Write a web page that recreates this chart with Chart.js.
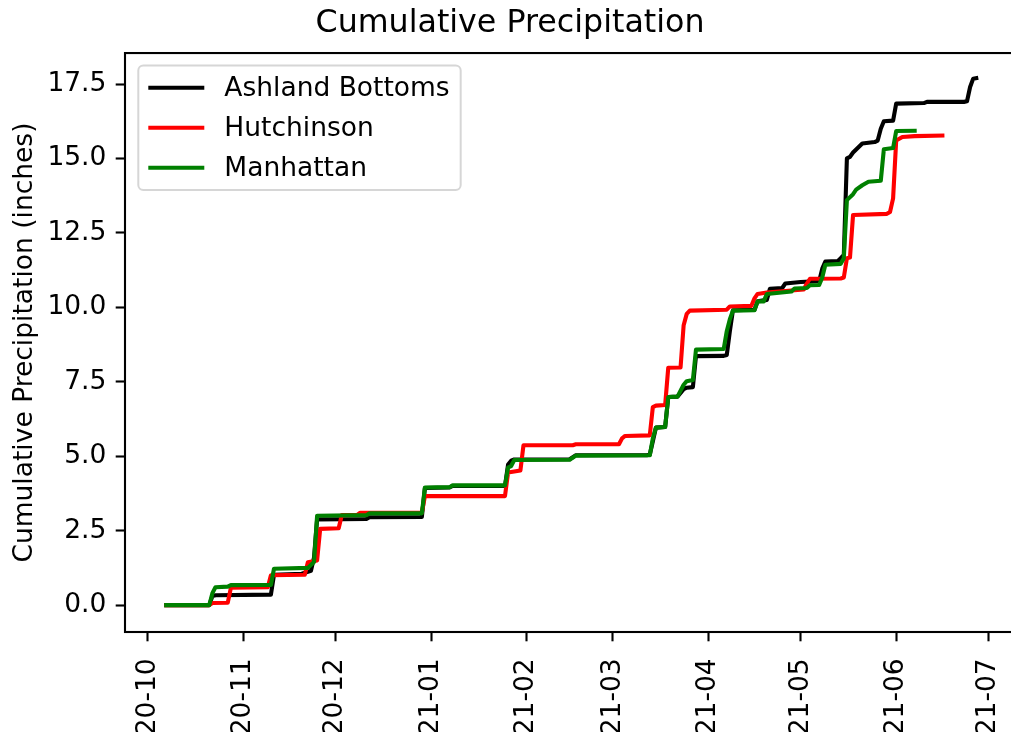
<!DOCTYPE html>
<html>
<head>
<meta charset="utf-8">
<script src="https://cdn.jsdelivr.net/npm/chart.js@4.4.1/dist/chart.umd.min.js"></script>
<style>
  html, body { margin: 0; padding: 0; background: #fff; overflow: hidden; }
  #wrap { width: 1040px; height: 732px; }
</style>
</head>
<body>
<div id="wrap"><canvas id="precipCanvas" width="1040" height="732"></canvas></div>
<script>
// day 0 = 2020-10-01
const startDate = "2020-10-01";

const monthStarts = ["2020-10-01", "2020-11-01", "2020-12-01", "2021-01-01", "2021-02-01",
  "2021-03-01", "2021-04-01", "2021-05-01", "2021-06-01", "2021-07-01"];
const monthLabels = ["20-10", "20-11", "20-12", "21-01", "21-02", "21-03", "21-04", "21-05", "21-06", "21-07"];
const yTicks = [0, 2.5, 5, 7.5, 10, 12.5, 15, 17.5];

const ashlandDates = ["2020-10-07", "2020-10-21", "2020-10-22", "2020-10-23", "2020-11-10", "2020-11-11",
  "2020-11-20", "2020-11-23", "2020-11-24", "2020-11-25", "2020-12-11", "2020-12-12", "2020-12-29",
  "2020-12-30", "2021-01-07", "2021-01-08", "2021-01-25", "2021-01-26", "2021-01-27", "2021-01-28",
  "2021-02-15", "2021-02-17", "2021-03-12", "2021-03-13", "2021-03-14", "2021-03-15", "2021-03-18",
  "2021-03-19", "2021-03-22", "2021-03-24", "2021-03-25", "2021-03-27", "2021-03-28", "2021-04-06",
  "2021-04-07", "2021-04-08", "2021-04-09", "2021-04-16", "2021-04-17", "2021-04-20", "2021-04-21",
  "2021-04-25", "2021-04-26", "2021-05-01", "2021-05-07", "2021-05-08", "2021-05-09", "2021-05-13",
  "2021-05-14", "2021-05-15", "2021-05-16", "2021-05-17", "2021-05-18", "2021-05-19", "2021-05-21",
  "2021-05-25", "2021-05-26", "2021-05-27", "2021-05-28", "2021-05-31", "2021-06-01", "2021-06-10",
  "2021-06-11", "2021-06-23", "2021-06-24", "2021-06-25", "2021-06-26", "2021-06-27"];
const ashlandValues = [0, 0, 0.3, 0.33, 0.35, 1.02,
  1.05, 1.15, 1.6, 2.88, 2.89, 2.95, 2.96,
  3.93, 3.95, 4.0, 4.0, 4.72, 4.85, 4.89,
  4.9, 5.03, 5.03, 5.05, 5.5, 5.96, 5.98,
  6.99, 7.0, 7.25, 7.3, 7.32, 8.36, 8.37,
  8.4, 9.2, 9.9, 9.92, 10.2, 10.25, 10.62,
  10.65, 10.8, 10.85, 10.88, 11.3, 11.54, 11.55,
  11.65, 11.76, 15.0, 15.05, 15.2, 15.3, 15.5,
  15.55, 15.6, 16.0, 16.25, 16.27, 16.84, 16.86,
  16.9, 16.9, 16.92, 17.4, 17.68, 17.7];

const hutchDates = ["2020-10-07", "2020-10-21", "2020-10-22", "2020-10-27", "2020-10-28", "2020-11-09",
  "2020-11-10", "2020-11-21", "2020-11-22", "2020-11-25", "2020-11-26", "2020-12-02", "2020-12-03",
  "2020-12-08", "2020-12-09", "2020-12-29", "2020-12-30", "2021-01-25", "2021-01-26", "2021-01-30",
  "2021-01-31", "2021-02-16", "2021-02-17", "2021-03-03", "2021-03-04", "2021-03-05", "2021-03-13",
  "2021-03-14", "2021-03-15", "2021-03-18", "2021-03-19", "2021-03-23", "2021-03-24", "2021-03-25",
  "2021-03-26", "2021-04-07", "2021-04-08", "2021-04-15", "2021-04-16", "2021-04-17", "2021-04-20",
  "2021-05-02", "2021-05-03", "2021-05-04", "2021-05-14", "2021-05-15", "2021-05-16", "2021-05-17",
  "2021-05-18", "2021-05-29", "2021-05-30", "2021-05-31", "2021-06-01", "2021-06-03", "2021-06-07",
  "2021-06-16"];
const hutchValues = [0, 0, 0.07, 0.08, 0.58, 0.6,
  1.0, 1.02, 1.44, 1.5, 2.56, 2.58, 3.02,
  3.03, 3.1, 3.1, 3.66, 3.66, 4.45, 4.52,
  5.37, 5.37, 5.4, 5.4, 5.6, 5.68, 5.7,
  6.65, 6.7, 6.72, 7.97, 7.98, 9.4, 9.78,
  9.89, 9.92, 10.03, 10.05, 10.3, 10.45, 10.5,
  10.6, 10.8, 10.96, 10.97, 11.0, 11.65, 11.67,
  13.1, 13.14, 13.2, 13.66, 15.6, 15.72, 15.75,
  15.77];

const manhattanDates = ["2020-10-07", "2020-10-21", "2020-10-22", "2020-10-23", "2020-10-27", "2020-10-28",
  "2020-11-10", "2020-11-11", "2020-11-22", "2020-11-24", "2020-11-25", "2020-12-11", "2020-12-12",
  "2020-12-29", "2020-12-30", "2021-01-07", "2021-01-08", "2021-01-25", "2021-01-26", "2021-01-27",
  "2021-01-28", "2021-02-15", "2021-02-17", "2021-03-13", "2021-03-14", "2021-03-15", "2021-03-18",
  "2021-03-19", "2021-03-22", "2021-03-24", "2021-03-25", "2021-03-27", "2021-03-28", "2021-04-06",
  "2021-04-07", "2021-04-08", "2021-04-09", "2021-04-16", "2021-04-17", "2021-04-19", "2021-04-20",
  "2021-04-28", "2021-04-29", "2021-05-03", "2021-05-04", "2021-05-07", "2021-05-08", "2021-05-09",
  "2021-05-14", "2021-05-15", "2021-05-16", "2021-05-18", "2021-05-19", "2021-05-21", "2021-05-23",
  "2021-05-27", "2021-05-28", "2021-05-31", "2021-06-01", "2021-06-07"];
const manhattanValues = [0, 0, 0.4, 0.6, 0.62, 0.67,
  0.68, 1.22, 1.25, 1.45, 3.0, 3.02, 3.08,
  3.08, 3.95, 3.96, 4.02, 4.02, 4.62, 4.67,
  4.87, 4.88, 5.02, 5.03, 5.6, 5.96, 5.98,
  6.99, 7.0, 7.4, 7.52, 7.56, 8.58, 8.6,
  9.2, 9.6, 9.89, 9.9, 10.2, 10.2, 10.45,
  10.53, 10.63, 10.65, 10.74, 10.75, 11.0, 11.43,
  11.46, 11.65, 13.6, 13.8, 13.95, 14.1, 14.22,
  14.25, 15.31, 15.35, 15.92, 15.93];

function dayOf(s) {
  const [y, m, d] = s.split("-").map(Number);
  const [y0, m0, d0] = startDate.split("-").map(Number);
  return (Date.UTC(y, m - 1, d) - Date.UTC(y0, m0 - 1, d0)) / 86400000;
}

function toPoints(dates, values) {
  return dates.map((d, i) => ({ x: dayOf(d), y: values[i] }));
}

const FONT = "'DejaVu Sans', sans-serif";
Chart.defaults.font.family = FONT;
Chart.defaults.font.size = 26.5;
Chart.defaults.color = "#000";

const lineStyle = {
  borderWidth: 4.1,
  pointRadius: 0,
  tension: 0,
  fill: false,
  borderCapStyle: "square",
  borderJoinStyle: "round"
};

// axes frame like matplotlib spines
const frame = {
  id: "frame",
  afterDatasetsDraw(chart) {
    const { ctx, chartArea: a } = chart;
    ctx.save();
    ctx.strokeStyle = "#000";
    ctx.lineWidth = 2.1;
    ctx.strokeRect(a.left, a.top, a.right - a.left, a.bottom - a.top);
    ctx.restore();
  }
};

const legendBox = {
  id: "legendBox",
  afterDraw(chart) {
    const { ctx, chartArea: a } = chart;
    const sets = chart.data.datasets;
    ctx.save();
    ctx.font = "26.5px " + FONT;
    const textW = Math.max(...sets.map(s => ctx.measureText(s.label).width));
    const x0 = a.left + 13.3, y0 = a.top + 12.5;
    const pad = 10, handle = 56, gap = 20, pitch = 40, first = 22.2;
    const w = pad + handle + gap + textW + 11;
    const h = first * 2 + pitch * (sets.length - 1);
    ctx.beginPath();
    ctx.roundRect(x0, y0, w, h, 5);
    ctx.fillStyle = "rgba(255,255,255,0.8)";
    ctx.fill();
    ctx.strokeStyle = "#d6d6d6";
    ctx.lineWidth = 2;
    ctx.stroke();
    sets.forEach((s, i) => {
      const cy = y0 + first + i * pitch;
      ctx.beginPath();
      ctx.moveTo(x0 + pad, cy);
      ctx.lineTo(x0 + pad + handle, cy);
      ctx.strokeStyle = s.borderColor;
      ctx.lineWidth = 4.1;
      ctx.stroke();
      ctx.fillStyle = "#000";
      ctx.textBaseline = "middle";
      ctx.fillText(s.label, x0 + pad + handle + gap, cy + 1);
    });
    ctx.restore();
  }
};

new Chart(document.getElementById("precipCanvas"), {
  type: "line",
  data: {
    datasets: [
      { label: "Ashland Bottoms", data: toPoints(ashlandDates, ashlandValues), borderColor: "#000000", order: 2, ...lineStyle },
      { label: "Hutchinson", data: toPoints(hutchDates, hutchValues), borderColor: "#ff0000", order: 1, ...lineStyle },
      { label: "Manhattan", data: toPoints(manhattanDates, manhattanValues), borderColor: "#008000", order: 0, ...lineStyle }
    ]
  },
  options: {
    responsive: false,
    animation: false,
    layout: { padding: { top: 0, left: 0, right: 20, bottom: 0 } },
    scales: {
      x: {
        type: "linear",
        min: -7.37,
        max: 283.2,
        afterBuildTicks: (scale) => { scale.ticks = monthStarts.map(d => ({ value: dayOf(d) })); },
        afterFit: (scale) => { scale.height = 100; },
        ticks: {
          autoSkip: false,
          minRotation: 90,
          maxRotation: 90,
          padding: 17,
          color: "#000",
          callback: (v) => monthLabels[monthStarts.findIndex(d => dayOf(d) === v)]
        },
        grid: { drawOnChartArea: false, drawTicks: true, tickLength: 9.3, tickWidth: 2.1, tickColor: "#000" },
        border: { display: false }
      },
      y: {
        min: -0.904,
        max: 18.54,
        afterBuildTicks: (scale) => { scale.ticks = yTicks.map(v => ({ value: v })); },
        afterFit: (scale) => { scale.width = 125; },
        ticks: {
          padding: 9.3,
          color: "#000",
          callback: (v) => Number(v).toFixed(1)
        },
        grid: { drawOnChartArea: false, drawTicks: true, tickLength: 9.3, tickWidth: 2.1, tickColor: "#000" },
        border: { display: false },
        title: {
          display: true,
          text: "Cumulative Precipitation (inches)",
          color: "#000",
          font: { size: 26.5 },
          padding: { top: 9, bottom: 0 }
        }
      }
    },
    plugins: {
      legend: { display: false },
      tooltip: { enabled: false },
      title: {
        display: true,
        text: "Cumulative Precipitation",
        color: "#000",
        font: { size: 31.7, weight: "normal" },
        padding: { top: 5, bottom: 10 }
      }
    }
  },
  plugins: [frame, legendBox]
});
</script>
</body>
</html>
